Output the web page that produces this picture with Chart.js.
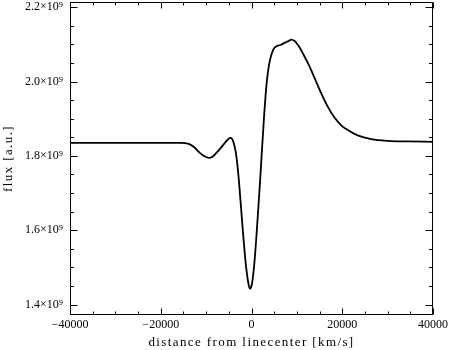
<!DOCTYPE html>
<html>
<head>
<meta charset="utf-8">
<script src="https://cdn.jsdelivr.net/npm/chart.js@4/dist/chart.umd.min.js"></script>
<style>
  html, body { margin: 0; padding: 0; background: #fff; }
</style>
</head>
<body>
<canvas id="chart" width="450" height="350"></canvas>
<script>
// velocity offset from line centre (km/s) and flux in units of 1e9
const velocity = [
  -40000, -20000, -15500, -14000, -12700, -11200, -10000, -9300, -8600, -7900,
  -6400, -5300, -4700, -4300, -3900, -3500, -3100, -2700, -2300, -1900,
  -1500, -1100, -700, -400, -150, 100, 440, 800, 1170, 1550,
  1900, 2250, 2560, 2800, 3100, 3400, 3750, 4100, 4550, 5000,
  5500, 6000, 6500, 7300, 8000, 8800, 9500, 10200, 10900, 11650,
  12400, 13150, 13850, 14600, 15300, 16800, 18250, 19700, 21200, 23400,
  26400, 30000, 34500, 40000
];
const flux = [
  1.835, 1.835, 1.835, 1.833, 1.824, 1.806, 1.797, 1.7945, 1.798, 1.806,
  1.827, 1.843, 1.8486, 1.846, 1.834, 1.812, 1.775, 1.722, 1.660, 1.597,
  1.540, 1.492, 1.458, 1.443, 1.445, 1.456, 1.487, 1.536, 1.599, 1.668,
  1.734, 1.805, 1.865, 1.912, 1.962, 2.003, 2.036, 2.059, 2.078, 2.090,
  2.095, 2.097, 2.099, 2.104, 2.108, 2.1127, 2.109, 2.099, 2.0856, 2.068,
  2.050, 2.031, 2.011, 1.990, 1.970, 1.9324, 1.9038, 1.883, 1.8695, 1.8551,
  1.8451, 1.8405, 1.839, 1.8378
];

const xTickValues = [-40000, -20000, 0, 20000, 40000];
const xTickLabels = ['\u221240000', '\u221220000', '0', '20000', '40000'];
const yTickValues = [1.4, 1.6, 1.8, 2.0, 2.2];
const yTickLabels = ['1.4\u00d710\u2079', '1.6\u00d710\u2079', '1.8\u00d710\u2079', '2.0\u00d710\u2079', '2.2\u00d710\u2079'];
const xMinorStep = 5000;
const yMinorStep = 0.05;

const tickFont = { family: 'Liberation Serif', size: 12 };
const titleFont = { family: 'Liberation Serif', size: 13 };

// the plot titles use the wide letter spacing of the original vector font
function spaceTitle(scale) {
  if (scale.spacedTitle) return;
  const original = scale.drawTitle.bind(scale);
  scale.drawTitle = (...args) => {
    scale.ctx.save();
    scale.ctx.letterSpacing = '1.4px';
    original(...args);
    scale.ctx.restore();
  };
  scale.spacedTitle = true;
}

// IDL-style box with inward ticks on all four sides
const framePlugin = {
  id: 'frame',
  afterDatasetsDraw(chart) {
    const { ctx, chartArea, scales } = chart;
    const left = Math.round(chartArea.left) + 0.5;
    const right = Math.round(chartArea.right) - 0.5;
    const top = Math.round(chartArea.top) + 0.5;
    const bottom = Math.round(chartArea.bottom) - 0.5;
    ctx.save();
    ctx.strokeStyle = '#000';
    ctx.lineWidth = 1;
    ctx.strokeRect(left, top, right - left, bottom - top);
    ctx.beginPath();
    for (let v = scales.x.min; v <= scales.x.max + 1; v += xMinorStep) {
      const px = Math.round(scales.x.getPixelForValue(v)) + 0.5;
      const len = xTickValues.includes(v) ? 6 : 3;
      ctx.moveTo(px, bottom); ctx.lineTo(px, bottom - len);
      ctx.moveTo(px, top); ctx.lineTo(px, top + len);
    }
    const yStart = Math.ceil(scales.y.min / yMinorStep - 1e-6);
    for (let k = yStart; k * yMinorStep <= scales.y.max + 1e-9; k++) {
      const v = k * yMinorStep;
      const py = Math.round(scales.y.getPixelForValue(v)) + 0.5;
      const major = yTickValues.some((t) => Math.abs(t - v) < 1e-6);
      const len = major ? 7 : 3.5;
      ctx.moveTo(left, py); ctx.lineTo(left + len, py);
      ctx.moveTo(right, py); ctx.lineTo(right - len, py);
    }
    ctx.stroke();
    ctx.restore();
  },
};

new Chart(document.getElementById('chart'), {
  type: 'line',
  data: {
    datasets: [
      {
        data: velocity.map((v, i) => ({ x: v, y: flux[i] })),
        borderColor: '#000',
        borderWidth: 1.8,
        pointRadius: 0,
        fill: false,
        cubicInterpolationMode: 'monotone',
      },
    ],
  },
  options: {
    responsive: false,
    animation: false,
    devicePixelRatio: 1,
    layout: { padding: { top: 2, right: 17, left: 0, bottom: 0 } },
    plugins: {
      legend: { display: false },
      tooltip: { enabled: false },
    },
    scales: {
      x: {
        type: 'linear',
        min: -40000,
        max: 40000,
        afterBuildTicks: (scale) => {
          scale.ticks = xTickValues.map((value) => ({ value }));
        },
        afterFit: (scale) => {
          scale.height = 35;
          scale.paddingLeft = 0;
          scale.paddingRight = 0;
          spaceTitle(scale);
        },
        ticks: {
          callback: (value) => xTickLabels[xTickValues.indexOf(value)],
          autoSkip: false,
          maxRotation: 0,
          color: '#000',
          font: tickFont,
          padding: 3,
        },
        grid: { display: false, drawTicks: false },
        border: { display: false },
        title: {
          display: true,
          text: 'distance from linecenter [km/s]',
          color: '#000',
          font: titleFont,
          padding: 0,
        },
      },
      y: {
        type: 'linear',
        min: 1.372,
        max: 2.214,
        afterBuildTicks: (scale) => {
          scale.ticks = yTickValues.map((value) => ({ value }));
        },
        afterFit: (scale) => {
          scale.width = 70;
          scale.paddingTop = 0;
          scale.paddingBottom = 0;
          spaceTitle(scale);
        },
        ticks: {
          callback: (value) => yTickLabels[yTickValues.findIndex((t) => Math.abs(t - value) < 1e-6)],
          autoSkip: false,
          color: '#000',
          font: tickFont,
          padding: 7,
        },
        grid: { display: false, drawTicks: false },
        border: { display: false },
        title: {
          display: true,
          text: 'flux [a.u.]',
          color: '#000',
          font: titleFont,
          padding: 1,
        },
      },
    },
  },
  plugins: [framePlugin],
});
</script>
</body>
</html>
